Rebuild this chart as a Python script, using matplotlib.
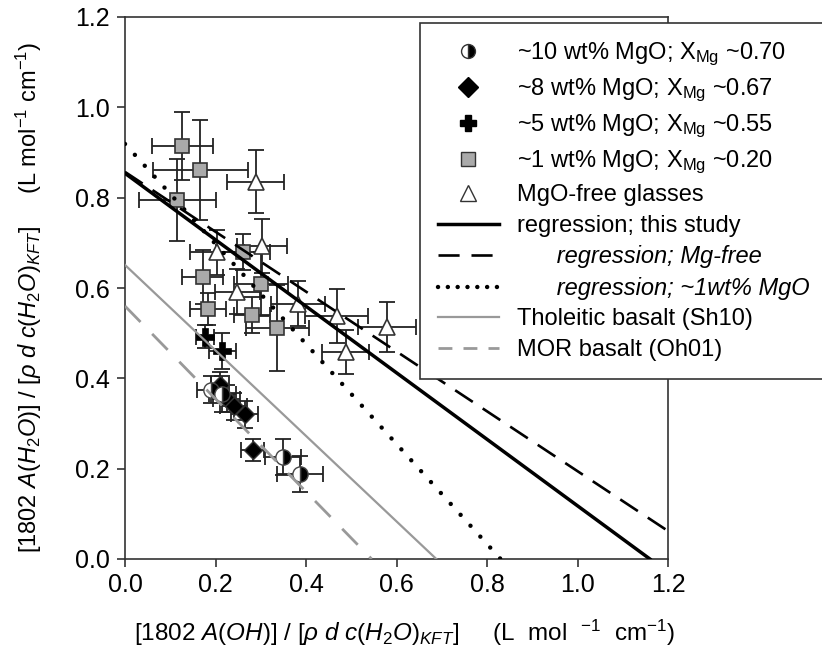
import numpy as np
import matplotlib
matplotlib.use("Agg")
import matplotlib.pyplot as plt
from matplotlib.lines import Line2D

plt.rcParams['font.family'] = ['Liberation Sans', 'DejaVu Sans']
plt.rcParams['mathtext.fontset'] = 'custom'
plt.rcParams['mathtext.rm'] = 'Liberation Sans'
plt.rcParams['mathtext.it'] = 'Liberation Sans:italic'
plt.rcParams['mathtext.bf'] = 'Liberation Sans:bold'

# ~1 wt% MgO (grey squares)
sq_x = [0.127, 0.166, 0.116, 0.261, 0.172, 0.300, 0.183, 0.280, 0.337]
sq_y = [0.914, 0.861, 0.795, 0.680, 0.624, 0.609, 0.553, 0.540, 0.511]
sq_xerr = [0.067, 0.105, 0.085, 0.060, 0.045, 0.060, 0.040, 0.040, 0.070]
sq_yerr = [0.075, 0.110, 0.090, 0.040, 0.060, 0.070, 0.035, 0.040, 0.095]

# MgO-free glasses (open triangles)
tri_x = [0.289, 0.303, 0.203, 0.248, 0.383, 0.468, 0.578, 0.488]
tri_y = [0.835, 0.693, 0.679, 0.592, 0.565, 0.538, 0.513, 0.458]
tri_xerr = [0.063, 0.055, 0.060, 0.050, 0.060, 0.070, 0.064, 0.052]
tri_yerr = [0.070, 0.060, 0.050, 0.050, 0.050, 0.060, 0.055, 0.048]

# ~5 wt% MgO (crosses)
cr_x = [0.177, 0.215]
cr_y = [0.492, 0.461]
cr_xerr = [0.020, 0.030]
cr_yerr = [0.025, 0.040]

# ~8 wt% MgO (diamonds)
dm_x = [0.210, 0.225, 0.240, 0.265, 0.282]
dm_y = [0.385, 0.355, 0.338, 0.320, 0.241]
dm_xerr = [0.020, 0.030, 0.030, 0.030, 0.025]
dm_yerr = [0.030, 0.030, 0.030, 0.030, 0.025]

# ~10 wt% MgO (half filled circles)
hc_x = [0.190, 0.215, 0.350, 0.387]
hc_y = [0.375, 0.365, 0.225, 0.188]
hc_xerr = [0.030, 0.030, 0.040, 0.050]
hc_yerr = [0.030, 0.040, 0.040, 0.040]

# regression / literature lines, end points
reg_study_x = [0.0, 1.16]
reg_study_y = [0.854, 0.0]
reg_mgfree_x = [0.0, 1.2]
reg_mgfree_y = [0.857, 0.062]
reg_1wt_x = [0.0, 0.83]
reg_1wt_y = [0.919, 0.0]
sh10_x = [0.0, 0.688]
sh10_y = [0.651, 0.0]
oh01_x = [0.0, 0.545]
oh01_y = [0.560, 0.0]

ticks = [0.0, 0.2, 0.4, 0.6, 0.8, 1.0, 1.2]

fig = plt.figure(figsize=(8.22, 6.63), dpi=100)
ax = fig.add_axes([125/822, 1-559/663, 543/822, 542/663])

ebkw = dict(fmt='none', ecolor='#222222', elinewidth=1.3, capsize=5.5, capthick=1.3, zorder=2)
ax.errorbar(sq_x, sq_y, xerr=sq_xerr, yerr=sq_yerr, **ebkw)
ax.errorbar(tri_x, tri_y, xerr=tri_xerr, yerr=tri_yerr, **ebkw)
ax.errorbar(cr_x, cr_y, xerr=cr_xerr, yerr=cr_yerr, **ebkw)
ax.errorbar(dm_x, dm_y, xerr=dm_xerr, yerr=dm_yerr, **ebkw)
ax.errorbar(hc_x, hc_y, xerr=hc_xerr, yerr=hc_yerr, **ebkw)

ax.plot(sq_x, sq_y, 's', ms=10, mfc='#aaaaaa', mec='#333333', mew=1.2, zorder=3)
ax.plot(tri_x, tri_y, '^', ms=12, mfc='white', mec='#333333', mew=1.2, zorder=3)
ax.plot(cr_x, cr_y, 'P', ms=13, mfc='black', mec='black', mew=0.5, zorder=3)
ax.plot(dm_x, dm_y, 'D', ms=9.5, mfc='black', mec='#333333', mew=1.0, zorder=3)
ax.plot(hc_x, hc_y, 'o', ms=11, fillstyle='right', mfc='black', mfcalt='white',
        mec='#444444', mew=1.0, zorder=3)

ax.plot(reg_study_x, reg_study_y, color='black', lw=2.5, zorder=4)
ax.plot(reg_mgfree_x, reg_mgfree_y, color='black', lw=1.9, ls=(0, (8, 4.5)), zorder=4)
ax.plot(reg_1wt_x, reg_1wt_y, color='black', lw=3.2, ls=(0, (0.01, 3.3)),
        dash_capstyle='round', zorder=4)
ax.plot(sh10_x, sh10_y, color='#999999', lw=1.6, zorder=4)
ax.plot(oh01_x, oh01_y, color='#999999', lw=2.0, ls=(0, (8, 6)), zorder=4)

ax.set_xlim(0, 1.2)
ax.set_ylim(0, 1.2)
ax.set_xticks(ticks)
ax.set_yticks(ticks)
ax.set_xticklabels(['%.1f' % v for v in ticks])
ax.set_yticklabels(['%.1f' % v for v in ticks])
ax.tick_params(direction='out', length=6, width=1.2, color='#333333', labelsize=18)
ax.tick_params(axis='x', pad=4)
ax.tick_params(axis='y', pad=5)
for s in ax.spines.values():
    s.set_color('#333333')
    s.set_linewidth(1.2)

ax.set_xlabel(r'[1802 $A(OH)$] / [$\rho\ d\ c(H_2O)_{KFT}$]     (L  mol  $^{-1}$  cm$^{-1}$)',
              fontsize=17.5)
ax.set_ylabel(r'[1802 $A(H_2O)$] / [$\rho\ d\ c(H_2O)_{KFT}$]     (L mol$^{-1}$ cm$^{-1}$)',
              fontsize=17)
ax.xaxis.set_label_coords(0.515, -0.108)
ax.yaxis.set_label_coords(-0.150, 0.483)

handles = [
    Line2D([], [], ls='none', marker='o', ms=10, fillstyle='right', mfc='black',
           mfcalt='white', mec='#333333'),
    Line2D([], [], ls='none', marker='D', ms=10, mfc='black', mec='black'),
    Line2D([], [], ls='none', marker='P', ms=12, mfc='black', mec='black'),
    Line2D([], [], ls='none', marker='s', ms=10, mfc='#aaaaaa', mec='#333333'),
    Line2D([], [], ls='none', marker='^', ms=11, mfc='white', mec='#333333'),
    Line2D([], [], color='black', lw=2.5),
    Line2D([], [], color='black', lw=1.9, ls=(0, (8, 4.5))),
    Line2D([], [], color='black', lw=3.2, ls=(0, (0.01, 2.2)), dash_capstyle='round'),
    Line2D([], [], color='#999999', lw=1.6),
    Line2D([], [], color='#999999', lw=2.0, ls=(0, (5, 4))),
]
labels = [
    r'~10 wt% MgO; X$_{\mathrm{Mg}}$ ~0.70',
    r'~8 wt% MgO; X$_{\mathrm{Mg}}$ ~0.67',
    r'~5 wt% MgO; X$_{\mathrm{Mg}}$ ~0.55',
    r'~1 wt% MgO; X$_{\mathrm{Mg}}$ ~0.20',
    'MgO-free glasses',
    'regression; this study',
    '      regression; Mg-free',
    '      regression; ~1wt% MgO',
    'Tholeitic basalt (Sh10)',
    'MOR basalt (Oh01)',
]
leg = fig.legend(handles, labels, loc='upper left', bbox_to_anchor=(420/822, 1-23/663),
                 fontsize=17, frameon=True, fancybox=False, edgecolor='#333333',
                 framealpha=1, handlelength=2.6, handletextpad=0.75, labelspacing=0.36,
                 borderpad=0.75, borderaxespad=0)
leg.get_frame().set_linewidth(1.2)
for i in (6, 7):
    leg.get_texts()[i].set_style('italic')

fig.savefig('out.png', dpi=100)
